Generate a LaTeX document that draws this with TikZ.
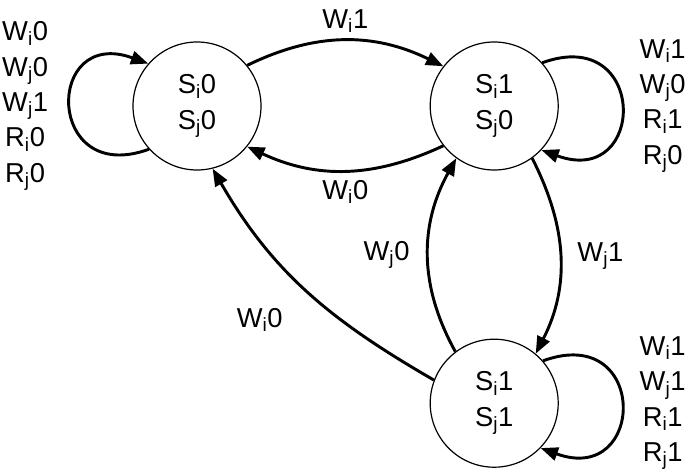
\documentclass[tikz,border=0pt]{standalone}
\usepackage{fontspec}
\setmainfont{Liberation Sans}
\usetikzlibrary{arrows.meta,positioning}

\begin{document}
\begin{tikzpicture}[auto,>={Triangle[length=13pt,width=10pt]},font=\fontsize{20.5}{26.5}\selectfont]
	\tikzstyle{state} = [draw, circle, line width=0.9pt, minimum size=96pt, inner sep=0pt, align=center]
	\tikzstyle{trans} = [->, line width=2.2pt]
	\tikzstyle{cond} = [align=center, inner sep=2pt]

	\useasboundingbox (0,0) rectangle (521.25pt,354pt);

	% states
	\node [state] (s0) at (147.75pt,274.5pt) {S\textsubscript{i}0\\S\textsubscript{j}0};
	\node [state, right = 126pt of s0] (s1) {S\textsubscript{i}1\\S\textsubscript{j}0};
	\node [state, below = 126pt of s1] (s2) {S\textsubscript{i}1\\S\textsubscript{j}1};

	% self-loop conditions
	\node [cond, left = 61pt of s0] (c0) {W\textsubscript{i}0\\W\textsubscript{j}0\\W\textsubscript{j}1\\R\textsubscript{i}0\\R\textsubscript{j}0};
	\node [cond, right = 58.5pt of s1] (c1) {W\textsubscript{i}1\\W\textsubscript{j}0\\R\textsubscript{i}1\\R\textsubscript{j}0};
	\node [cond, right = 58.5pt of s2] (c2) {W\textsubscript{i}1\\W\textsubscript{j}1\\R\textsubscript{i}1\\R\textsubscript{j}1};

	% self loops
	\draw [trans] (s0.222) to [out=200, in=160, looseness=3.3] (s0.139);
	\draw [trans] (s1.42) to [out=20, in=-20, looseness=3.3] (s1.317);
	\draw [trans] (s2.41) to [out=20, in=-20, looseness=3.3] (s2.316);

	% transitions
	\draw [trans] (s0.39) to [out=26, in=154] node [cond, above=3pt] (l01) {W\textsubscript{i}1} (s1.142);
	\draw [trans] (s1.218) to [out=205, in=335] node [cond, below=4pt] (l10) {W\textsubscript{i}0} (s0.321);
	\draw [trans] (s1.306) to [out=-63, in=63] node [cond, right=10pt] (l12) {W\textsubscript{j}1} (s2.50);
	\draw [trans] (s2.127) to [out=119, in=241] node [cond, left=11pt] (l21) {W\textsubscript{j}0} (s1.234);
	\draw [trans] (s2.159) to [out=150, in=300] node [cond, below left=10pt and 15pt] (l20) {W\textsubscript{i}0} (s0.284);

\end{tikzpicture}
\end{document}
